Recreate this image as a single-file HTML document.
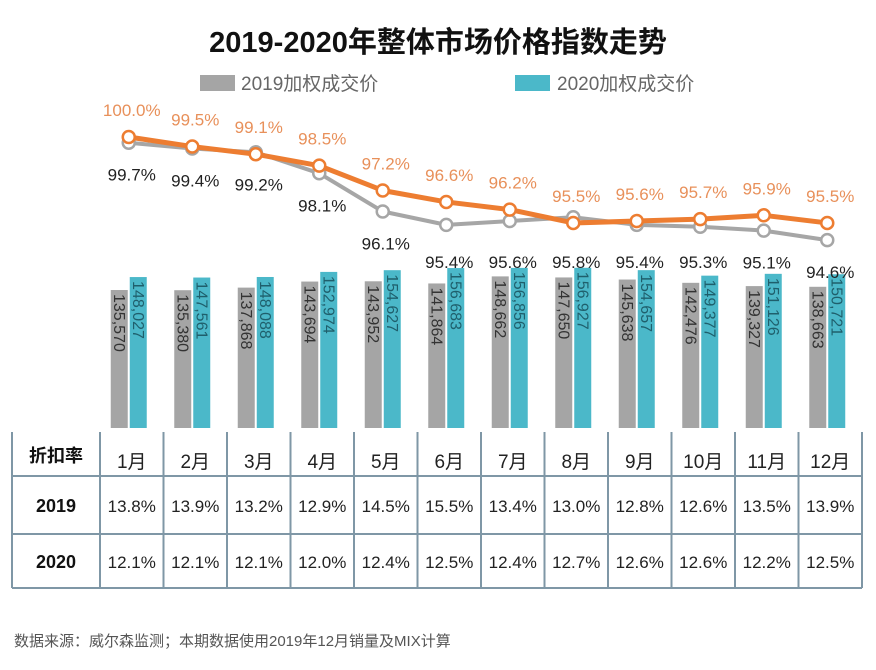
<!DOCTYPE html>
<html><head><meta charset="utf-8"><style>
body{margin:0;background:#fff;width:876px;height:665px;overflow:hidden;font-family:"Liberation Sans","Noto Sans CJK SC",sans-serif}
svg text{font-family:"Liberation Sans","Noto Sans CJK SC",sans-serif}
</style></head><body>
<svg id="c" width="876" height="665">
<text x="438" y="52" text-anchor="middle" font-size="29" font-weight="bold" fill="#111">2019-2020年整体市场价格指数走势</text>
<rect x="200" y="75" width="35" height="16" fill="#a5a5a5"/>
<text x="241" y="90" font-size="19" fill="#666">2019加权成交价</text>
<rect x="515" y="75" width="35" height="16" fill="#4bb8c9"/>
<text x="557" y="90" font-size="19" fill="#666">2020加权成交价</text>
<g id="bars"></g><g id="lines"></g><g id="table"></g>
<text x="14" y="646" font-size="15" fill="#555">数据来源：威尔森监测；本期数据使用2019年12月销量及MIX计算</text>
</svg>
<script>
const months=["1月","2月","3月","4月","5月","6月","7月","8月","9月","10月","11月","12月"];
const price2019=[135570,135380,137868,143694,143952,141864,148662,147650,145638,142476,139327,138663];
const price2020=[148027,147561,148088,152974,154627,156683,156856,156927,154657,149377,151126,150721];
const idx2019=[99.7,99.4,99.2,98.1,96.1,95.4,95.6,95.8,95.4,95.3,95.1,94.6];
const idx2020=[100.0,99.5,99.1,98.5,97.2,96.6,96.2,95.5,95.6,95.7,95.9,95.5];
const disc2019=["13.8%","13.9%","13.2%","12.9%","14.5%","15.5%","13.4%","13.0%","12.8%","12.6%","13.5%","13.9%"];
const disc2020=["12.1%","12.1%","12.1%","12.0%","12.4%","12.5%","12.4%","12.7%","12.6%","12.6%","12.2%","12.5%"];
const NS="http://www.w3.org/2000/svg";
function mk(p,t,a){const e=document.createElementNS(NS,t);for(const k in a)e.setAttribute(k,a[k]);p.appendChild(e);return e;}
const x0=100,cw=63.5,base=428;
const cx=i=>x0+cw*(i+0.5);
const barH=v=>v*0.00104-3;
const ly=v=>137+(100-v)*19.1;
const fmt=v=>v.toLocaleString('en-US');
const bars=document.getElementById('bars');
months.forEach((m,i)=>{
 const c=cx(i);
 [[price2019,c-21,'#a5a5a5','#333','2019'],[price2020,c-2,'#4bb8c9','#1f5f6c','2020']].forEach(([arr,x,col,tc,yr])=>{
  const h=barH(arr[i]),y=base-h;
  const r=mk(bars,'rect',{x:x,y:y,width:17,height:h,fill:col});
  
  
  const t=mk(bars,'text',{x:0,y:0,'font-size':16,fill:tc,transform:`translate(${x+3},${y+4}) rotate(90)`});
  t.textContent=fmt(arr[i]);
  
  
 });
});
const lines=document.getElementById('lines');
[[idx2019,'#a6a6a6','2019'],[idx2020,'#ed7d31','2020']].forEach(([arr,col,yr])=>{
 const pts=arr.map((v,i)=>(cx(i)-3)+','+ly(v)).join(' ');
 const pl=mk(lines,'polyline',{points:pts,fill:'none',stroke:col,'stroke-width':yr==='2020'?5:4,'stroke-linejoin':'round'});
 
 
 arr.forEach((v,i)=>{
  const p=mk(lines,'circle',{cx:cx(i)-3,cy:ly(v),r:6,fill:'#fff',stroke:col,'stroke-width':2.5});
  
  
  let ty;
  if(yr==='2020'){ty=ly(v)-21;}else{ty=ly(v)+38;if(ty>252)ty=Math.max(ty,268);}
  const t=mk(lines,'text',{x:cx(i),y:ty,'text-anchor':'middle','font-size':17,fill:yr==='2020'?'#e8905a':'#222'});
  t.textContent=v.toFixed(1)+'%';
  
  
 });
});
const tb=document.getElementById('table');
const bc='#7f97a6';
mk(tb,'line',{x1:12,y1:476,x2:862,y2:476,stroke:bc,'stroke-width':2});
mk(tb,'line',{x1:12,y1:534,x2:862,y2:534,stroke:bc,'stroke-width':2});
mk(tb,'line',{x1:12,y1:588,x2:862,y2:588,stroke:bc,'stroke-width':2});
for(let k=0;k<=13;k++){const x=k===0?12:x0+cw*(k-1);mk(tb,'line',{x1:x,y1:432,x2:x,y2:588,stroke:bc,'stroke-width':2});}
const hdr=mk(tb,'text',{x:56,y:462,'text-anchor':'middle','font-size':18,'font-weight':'bold',fill:'#111'});hdr.textContent='折扣率';

[['2019',512],['2020',568]].forEach(([l,y])=>{const t=mk(tb,'text',{x:56,y:y,'text-anchor':'middle','font-size':18,'font-weight':'bold',fill:'#111'});t.textContent=l;
});
months.forEach((m,i)=>{
 const t=mk(tb,'text',{x:cx(i),y:468,'text-anchor':'middle','font-size':19,fill:'#222'});t.textContent=m;
 
 const a=mk(tb,'text',{x:cx(i),y:512,'text-anchor':'middle','font-size':17,fill:'#222'});a.textContent=disc2019[i];
 
 const b=mk(tb,'text',{x:cx(i),y:568,'text-anchor':'middle','font-size':17,fill:'#222'});b.textContent=disc2020[i];
 
});
</script>
</body></html>
